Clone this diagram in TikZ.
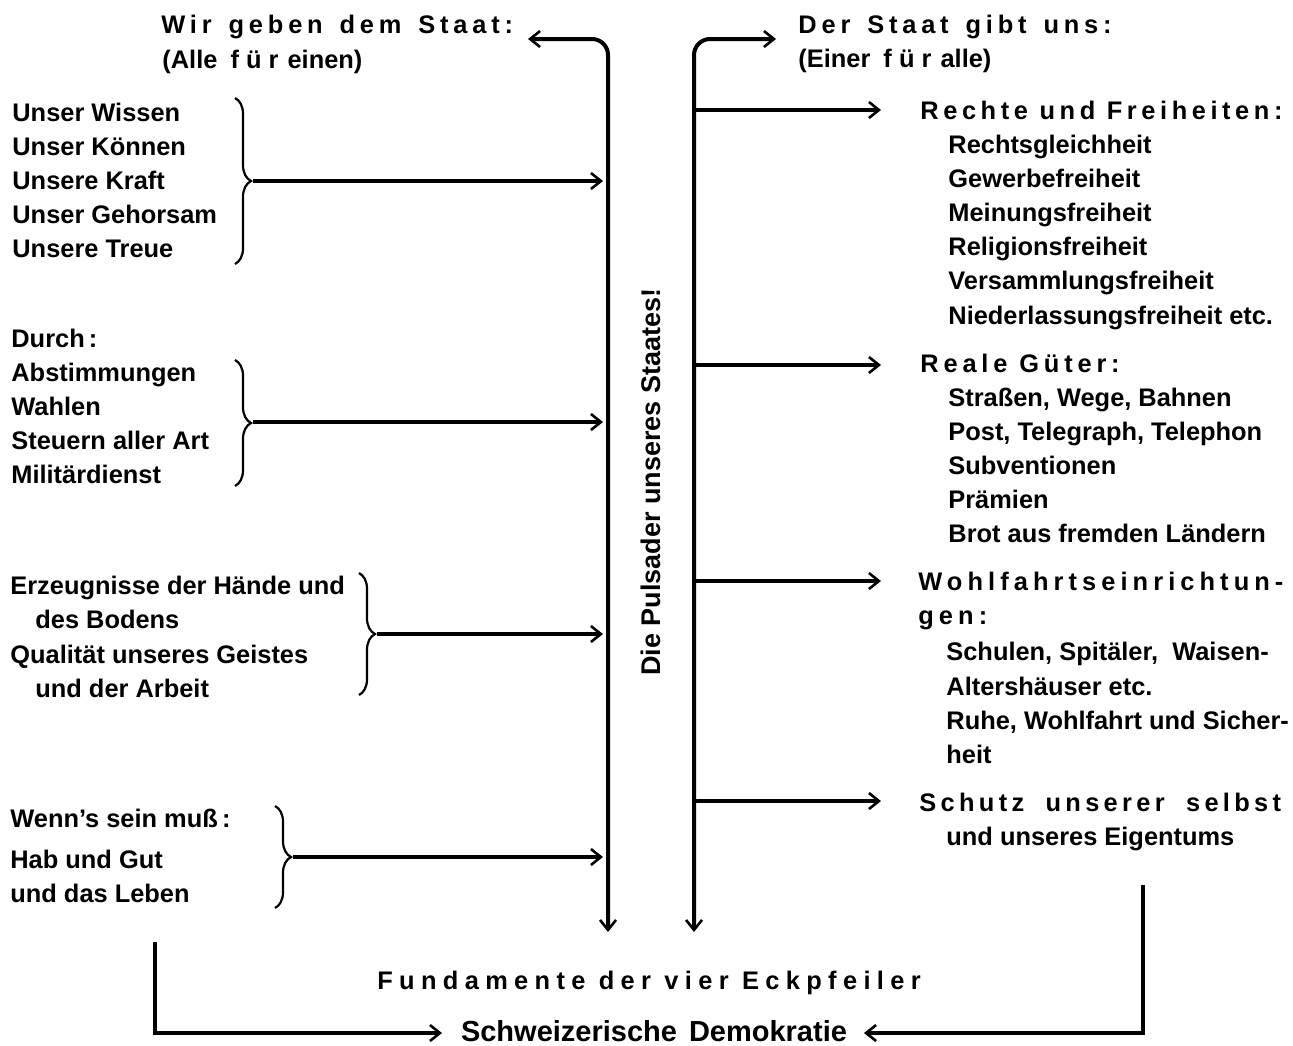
\documentclass[tikz,border=0pt]{standalone}
\usepackage{fontspec}
\setmainfont{Liberation Sans}
\usetikzlibrary{arrows.meta,decorations.pathreplacing}
\newcommand\spc[2][15]{{\addfontfeature{LetterSpace=#1}#2}}
\tikzset{
  txt/.style={anchor=base west, inner sep=0pt, font=\fontsize{12.7}{16}\selectfont\bfseries},
  ctxt/.style={anchor=base, inner sep=0pt, font=\fontsize{12.7}{16}\selectfont\bfseries},
  mainline/.style={line width=2pt, rounded corners=8pt},
  arr/.style={line width=1.6pt},
  tip/.style={-{Straight Barb[length=5pt,width=8pt,line width=1.3pt]}},
  tips/.style={{Straight Barb[length=5pt,width=8pt,line width=1.3pt]}-{Straight Barb[length=5pt,width=8pt,line width=1.3pt]}},
  brc/.style={decorate, decoration={brace, amplitude=8pt}, line width=1.1pt},
}
\begin{document}
\begin{tikzpicture}[x=0.5pt,y=-0.5pt]
\useasboundingbox (0,0) rectangle (1293,1045);

% headers
\node[txt] (hl1) at (161,33) {\spc[19]{Wir\hspace{2.5pt} geben\hspace{2.5pt} dem\hspace{2.5pt} Staat:}};
\node[txt] (hl2) at (162,68) {(Alle\hspace{3pt} \spc[28]{für}\hspace{1pt} einen)};
\node[txt] (hr1) at (798,33) {\spc[19]{Der\hspace{2.5pt} Staat\hspace{2.5pt} gibt\hspace{2.5pt} uns:}};
\node[txt] (hr2) at (798,67) {(Einer\hspace{3pt} \spc[28]{für}\hspace{1pt} alle)};

% main lines
\coordinate (ltip) at (528,39);
\coordinate (lcorner) at (608,39);
\coordinate (lbot) at (608,932);
\coordinate (rtip) at (776,39);
\coordinate (rcorner) at (694,39);
\coordinate (rbot) at (694,932);
\draw[mainline,tips] (ltip) -- (lcorner) -- (lbot);
\draw[mainline,tips] (rtip) -- (rcorner) -- (rbot);

\node[font=\fontsize{13.5}{16}\selectfont\bfseries, rotate=90, inner sep=0pt] (puls) at (651,482) {Die Pulsader unseres Staates!};

% left block 1
\foreach \t [count=\i] in {Unser Wissen, Unser Können, Unsere Kraft, Unser Gehorsam, Unsere Treue}
  \node[txt] (a\i) at (12,{121+34*(\i-1)}) {\t};
\draw[brc] (235,98) -- (235,264);
\coordinate (b1) at (253,181);
\coordinate (e1) at (603,181);
\draw[arr,tip] (b1) -- (e1);

% left block 2
\foreach \t [count=\i] in {Durch\,:, Abstimmungen, Wahlen, Steuern aller Art, Militärdienst}
  \node[txt] (c\i) at (11,{347+34*(\i-1)}) {\t};
\draw[brc] (235,360) -- (235,486);
\coordinate (b2) at (253,422);
\coordinate (e2) at (603,422);
\draw[arr,tip] (b2) -- (e2);

% left block 3
\node[txt] (d1) at (10,594) {Erzeugnisse der Hände und};
\node[txt] (d2) at (35,628) {des Bodens};
\node[txt] (d3) at (10,663) {Qualität unseres Geistes};
\node[txt] (d4) at (35,697) {und der Arbeit};
\draw[brc] (359,573) -- (359,695);
\coordinate (b3) at (377,634);
\coordinate (e3) at (603,634);
\draw[arr,tip] (b3) -- (e3);

% left block 4
\node[txt] (f1) at (10,827) {Wenn's sein muß\,:};
\node[txt] (f2) at (10,868) {Hab und Gut};
\node[txt] (f3) at (10,902) {und das Leben};
\draw[brc] (275,806) -- (275,908);
\coordinate (b4) at (293,857);
\coordinate (e4) at (603,857);
\draw[arr,tip] (b4) -- (e4);

% right block 1
\coordinate (s1) at (694,110);
\coordinate (t1) at (881,110);
\draw[arr,tip] (s1) -- (t1);
\node[txt] (g0) at (920,119) {\spc[18]{Rechte und Freiheiten:}};
\foreach \t [count=\i] in {Rechtsgleichheit, Gewerbefreiheit, Meinungsfreiheit, Religionsfreiheit, Versammlungsfreiheit, Niederlassungsfreiheit etc.}
  \node[txt] (g\i) at (948,{153+34.2*(\i-1)}) {\t};

% right block 2
\coordinate (s2) at (694,365);
\coordinate (t2) at (881,365);
\draw[arr,tip] (s2) -- (t2);
\node[txt] (h0) at (920,372) {\spc[19]{Reale Güter:}};
\foreach \t [count=\i] in {{Straßen, Wege, Bahnen}, {Post, Telegraph, Telephon}, Subventionen, Prämien, Brot aus fremden Ländern}
  \node[txt] (h\i) at (948,{406+34.2*(\i-1)}) {\t};

% right block 3
\coordinate (s3) at (694,581);
\coordinate (t3) at (881,581);
\draw[arr,tip] (s3) -- (t3);
\node[txt] (k0) at (918,590) {\spc[20]{Wohlfahrtseinrichtun-}};
\node[txt] (k1) at (918,624) {\spc[20]{gen:}};
\node[txt] (k2) at (946,660) {Schulen, Spitäler, \ Waisen-};
\node[txt] (k3) at (946,695) {Altershäuser etc.};
\node[txt] (k4) at (946,729) {Ruhe, Wohlfahrt und Sicher-};
\node[txt] (k5) at (946,763) {heit};

% right block 4
\coordinate (s4) at (694,801);
\coordinate (t4) at (881,801);
\draw[arr,tip] (s4) -- (t4);
\node[txt] (m0) at (919,811) {\spc[17]{Schutz\hspace{5pt} unserer\hspace{5pt} selbst}};
\node[txt] (m1) at (946,845) {und unseres Eigentums};

% bottom
\node[ctxt] (fund) at (649,989) {\spc[25]{Fundamente der vier Eckpfeiler}};
\node[anchor=base, inner sep=0pt, font=\fontsize{14.5}{18}\selectfont\bfseries] (demo) at (654,1041) {Schweizerische\hspace{2pt} Demokratie};
\coordinate (bl1) at (155,942);
\coordinate (bl2) at (155,1033);
\coordinate (bl3) at (442,1033);
\coordinate (br1) at (1143,885);
\coordinate (br2) at (1143,1033);
\coordinate (br3) at (864,1033);
\draw[arr,tip] (bl1) -- (bl2) -- (bl3);
\draw[arr,tip] (br1) -- (br2) -- (br3);
\end{tikzpicture}
\end{document}
